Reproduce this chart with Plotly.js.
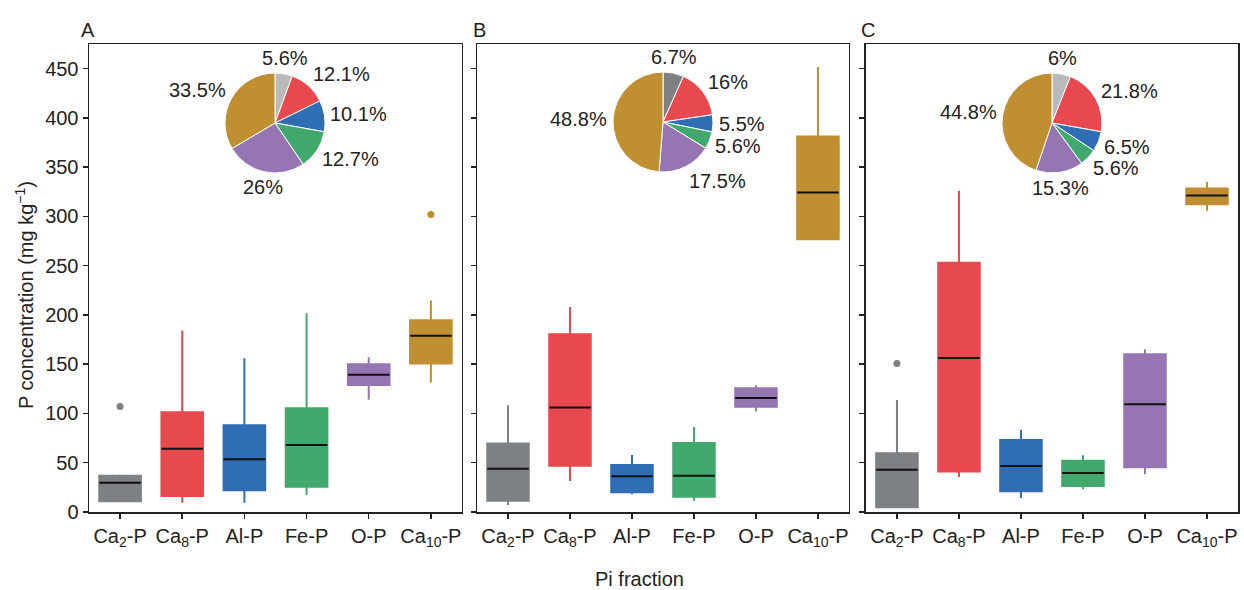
<!DOCTYPE html>
<html>
<head>
<meta charset="utf-8">
<script src="https://cdn.plot.ly/plotly-3.0.1.min.js"></script>
<style>html,body{margin:0;padding:0;background:#fff;}#chart{width:1244px;height:590px;}</style>
</head>
<body>
<div id="chart"></div>
<script>
// Categories and colours
const categories = ['Ca<sub>2</sub>-P','Ca<sub>8</sub>-P','Al-P','Fe-P','O-P','Ca<sub>10</sub>-P'];
const boxColors = ['#7e8184','#e8494f','#2f6db5','#41a86e','#9576b3','#c08f31'];

// Panel A box statistics (mg kg-1)
const A_low = [10, 9.5, 9.5, 17.3, 114, 131.4];
const A_q1  = [10.9, 16.3, 22, 25.7, 129, 150.7];
const A_med = [29.8, 64.3, 53.5, 68, 139.2, 178.8];
const A_q3  = [36.9, 101.3, 88, 105.3, 150, 194.7];
const A_high= [38, 184.2, 156, 201.8, 157, 214.7];
const A_outCat = ['Ca<sub>2</sub>-P','Ca<sub>10</sub>-P'];
const A_outVal = [107, 302];

// Panel B
const B_low = [7.1, 31.5, 18, 11.5, 101.9, 275.8];
const B_q1  = [11.5, 47, 20, 15.6, 106.7, 276.8];
const B_med = [44, 106, 36.2, 36.9, 115.8, 324.3];
const B_q3  = [69.4, 180.5, 47.7, 70, 125.6, 381];
const B_high= [108.4, 208, 57.9, 86.3, 128.7, 451.7];
const B_outCat = [];
const B_outVal = [];

// Panel C
const C_low = [4.8, 35.6, 14.2, 23, 38.3, 305.8];
const C_q1  = [4.8, 41, 21, 26.4, 45.4, 312.4];
const C_med = [43, 156.4, 46.7, 39.6, 109.4, 321.3];
const C_q3  = [59.6, 253, 73.1, 52.1, 160.2, 328.4];
const C_high= [113.8, 326, 83.6, 57.6, 164.9, 334.9];
const C_outCat = ['Ca<sub>2</sub>-P'];
const C_outVal = [150.7];

// Pie shares (%)
const pieA = [5.6, 12.1, 10.1, 12.7, 26, 33.5];
const pieB = [6.7, 16, 5.5, 5.6, 17.5, 48.8];
const pieC = [6, 21.8, 6.5, 5.6, 15.3, 44.8];
const pieA_text = ['5.6%','12.1%','10.1%','12.7%','26%','33.5%'];
const pieB_text = ['6.7%','16%','5.5%','5.6%','17.5%','48.8%'];
const pieC_text = ['6%','21.8%','6.5%','5.6%','15.3%','44.8%'];
const pieColorsAC = ['#b9babb','#e8494f','#2f6db5','#41a86e','#9576b3','#c08f31'];
const pieColorsB  = ['#7e8184','#e8494f','#2f6db5','#41a86e','#9576b3','#c08f31'];

const FONT = '"Liberation Sans", Arial, sans-serif';
const TXT = '#222';
const traces = [];
const annotations = [];

function addPanel(low,q1,med,q3,high,outCat,outVal,xa,ya){
  for(let i=0;i<categories.length;i++){
    traces.push({type:'box', x:[categories[i]], q1:[q1[i]], median:[med[i]], q3:[q3[i]],
      lowerfence:[low[i]], upperfence:[high[i]], xaxis:xa, yaxis:ya,
      width:0.67, whiskerwidth:0, fillcolor:boxColors[i],
      line:{color:boxColors[i], width:2}, boxpoints:false, hoverinfo:'skip', showlegend:false});
    traces.push({type:'box', x:[categories[i]], q1:[med[i]], median:[med[i]], q3:[med[i]],
      lowerfence:[med[i]], upperfence:[med[i]], xaxis:xa, yaxis:ya,
      width:0.67, whiskerwidth:0, fillcolor:'rgba(0,0,0,0)',
      line:{color:'#111', width:2}, boxpoints:false, hoverinfo:'skip', showlegend:false});
  }
  if(outCat.length){
    traces.push({type:'scatter', mode:'markers', x:outCat, y:outVal, xaxis:xa, yaxis:ya,
      marker:{size:7, color:outCat.map(c=>boxColors[categories.indexOf(c)])},
      hoverinfo:'skip', showlegend:false});
  }
}
addPanel(A_low,A_q1,A_med,A_q3,A_high,A_outCat,A_outVal,'x','y');
addPanel(B_low,B_q1,B_med,B_q3,B_high,B_outCat,B_outVal,'x2','y2');
addPanel(C_low,C_q1,C_med,C_q3,C_high,C_outCat,C_outVal,'x3','y3');

// pies (labels placed at each slice's mid-angle, without leader lines)
const plotW = 1149, plotH = 468, L = 89, B0 = 512, R = 50;
const px2x = p => (p - L) / plotW;
const px2y = p => (B0 - p) / plotH;
function addPie(vals, txt, cols, cxPx, cyPx){
  traces.push({type:'pie', values:vals, textinfo:'none', sort:false, direction:'clockwise', rotation:0,
    domain:{x:[px2x(cxPx-R), px2x(cxPx+R)], y:[px2y(cyPx+R), px2y(cyPx-R)]},
    marker:{colors:cols, line:{color:'#ffffff', width:1}}, hoverinfo:'skip', showlegend:false});
  const total = vals.reduce((a,b)=>a+b,0);
  let acc = 0;
  vals.forEach((v,i)=>{
    const mid = (acc + v/2)/total*2*Math.PI; acc += v;
    const s = Math.sin(mid), c = Math.cos(mid);
    const lx = cxPx + (R+5)*s, ly = cyPx - (R+5)*c - c*11;
    annotations.push({text:txt[i], xref:'paper', yref:'paper', x:px2x(lx), y:px2y(ly),
      xanchor: s>0.3?'left':(s<-0.3?'right':'center'), yanchor:'middle', borderpad:0,
      showarrow:false, font:{size:20, color:TXT}});
  });
}
addPie(pieA, pieA_text, pieColorsAC, 275, 123);
addPie(pieB, pieB_text, pieColorsB, 663, 122);
addPie(pieC, pieC_text, pieColorsAC, 1052, 123);

const yTicks = [0,50,100,150,200,250,300,350,400,450];
function yax(showLabels, anchor){
  return {range:[0,475], tickvals:yTicks, ticks:'outside', ticklen:5, tickwidth:1.5, tickcolor:'#222',
    showticklabels:showLabels, showline:true, linecolor:'#222', linewidth:1.5, mirror:true,
    showgrid:false, zeroline:false, anchor:anchor, tickfont:{size:20, color:TXT}};
}
function xax(dom, anchor){
  return {domain:dom, type:'category', categoryorder:'array', categoryarray:categories, range:[-0.5,5.5],
    ticks:'outside', ticklen:5, tickwidth:1.5, tickcolor:'#222',
    showline:true, linecolor:'#222', linewidth:1.5, mirror:true, showgrid:false, zeroline:false,
    anchor:anchor, tickfont:{size:20, color:TXT}};
}

annotations.push(
  {text:'A', xref:'paper', yref:'paper', x:px2x(79), y:px2y(30), xanchor:'left', yanchor:'middle', showarrow:false, font:{size:20, color:TXT}},
  {text:'B', xref:'paper', yref:'paper', x:px2x(471), y:px2y(30), xanchor:'left', yanchor:'middle', showarrow:false, font:{size:20, color:TXT}},
  {text:'C', xref:'paper', yref:'paper', x:px2x(859), y:px2y(30), xanchor:'left', yanchor:'middle', showarrow:false, font:{size:20, color:TXT}},
  {text:'Pi fraction', xref:'paper', yref:'paper', x:px2x(639), y:px2y(579), xanchor:'center', yanchor:'middle', showarrow:false, font:{size:20, color:TXT}},
  {text:'P concentration (mg kg<sup>−1</sup>)', xref:'paper', yref:'paper', x:px2x(24), y:px2y(295), xanchor:'center', yanchor:'middle', textangle:-90, showarrow:false, font:{size:20, color:TXT}}
);

const layout = {
  width:1244, height:590,
  margin:{l:89, r:6, t:44, b:78},
  paper_bgcolor:'#fff', plot_bgcolor:'#fff',
  font:{family:FONT, color:TXT, size:20},
  showlegend:false, boxmode:'overlay',
  xaxis: xax([0, 0.3246], 'y'),
  xaxis2: xax([0.3377, 0.6614], 'y2'),
  xaxis3: xax([0.6762, 1], 'y3'),
  yaxis: yax(true, 'x'),
  yaxis2: yax(false, 'x2'),
  yaxis3: yax(false, 'x3'),
  annotations: annotations
};

Plotly.newPlot('chart', traces, layout, {displayModeBar:false, staticPlot:true});
</script>
</body>
</html>
